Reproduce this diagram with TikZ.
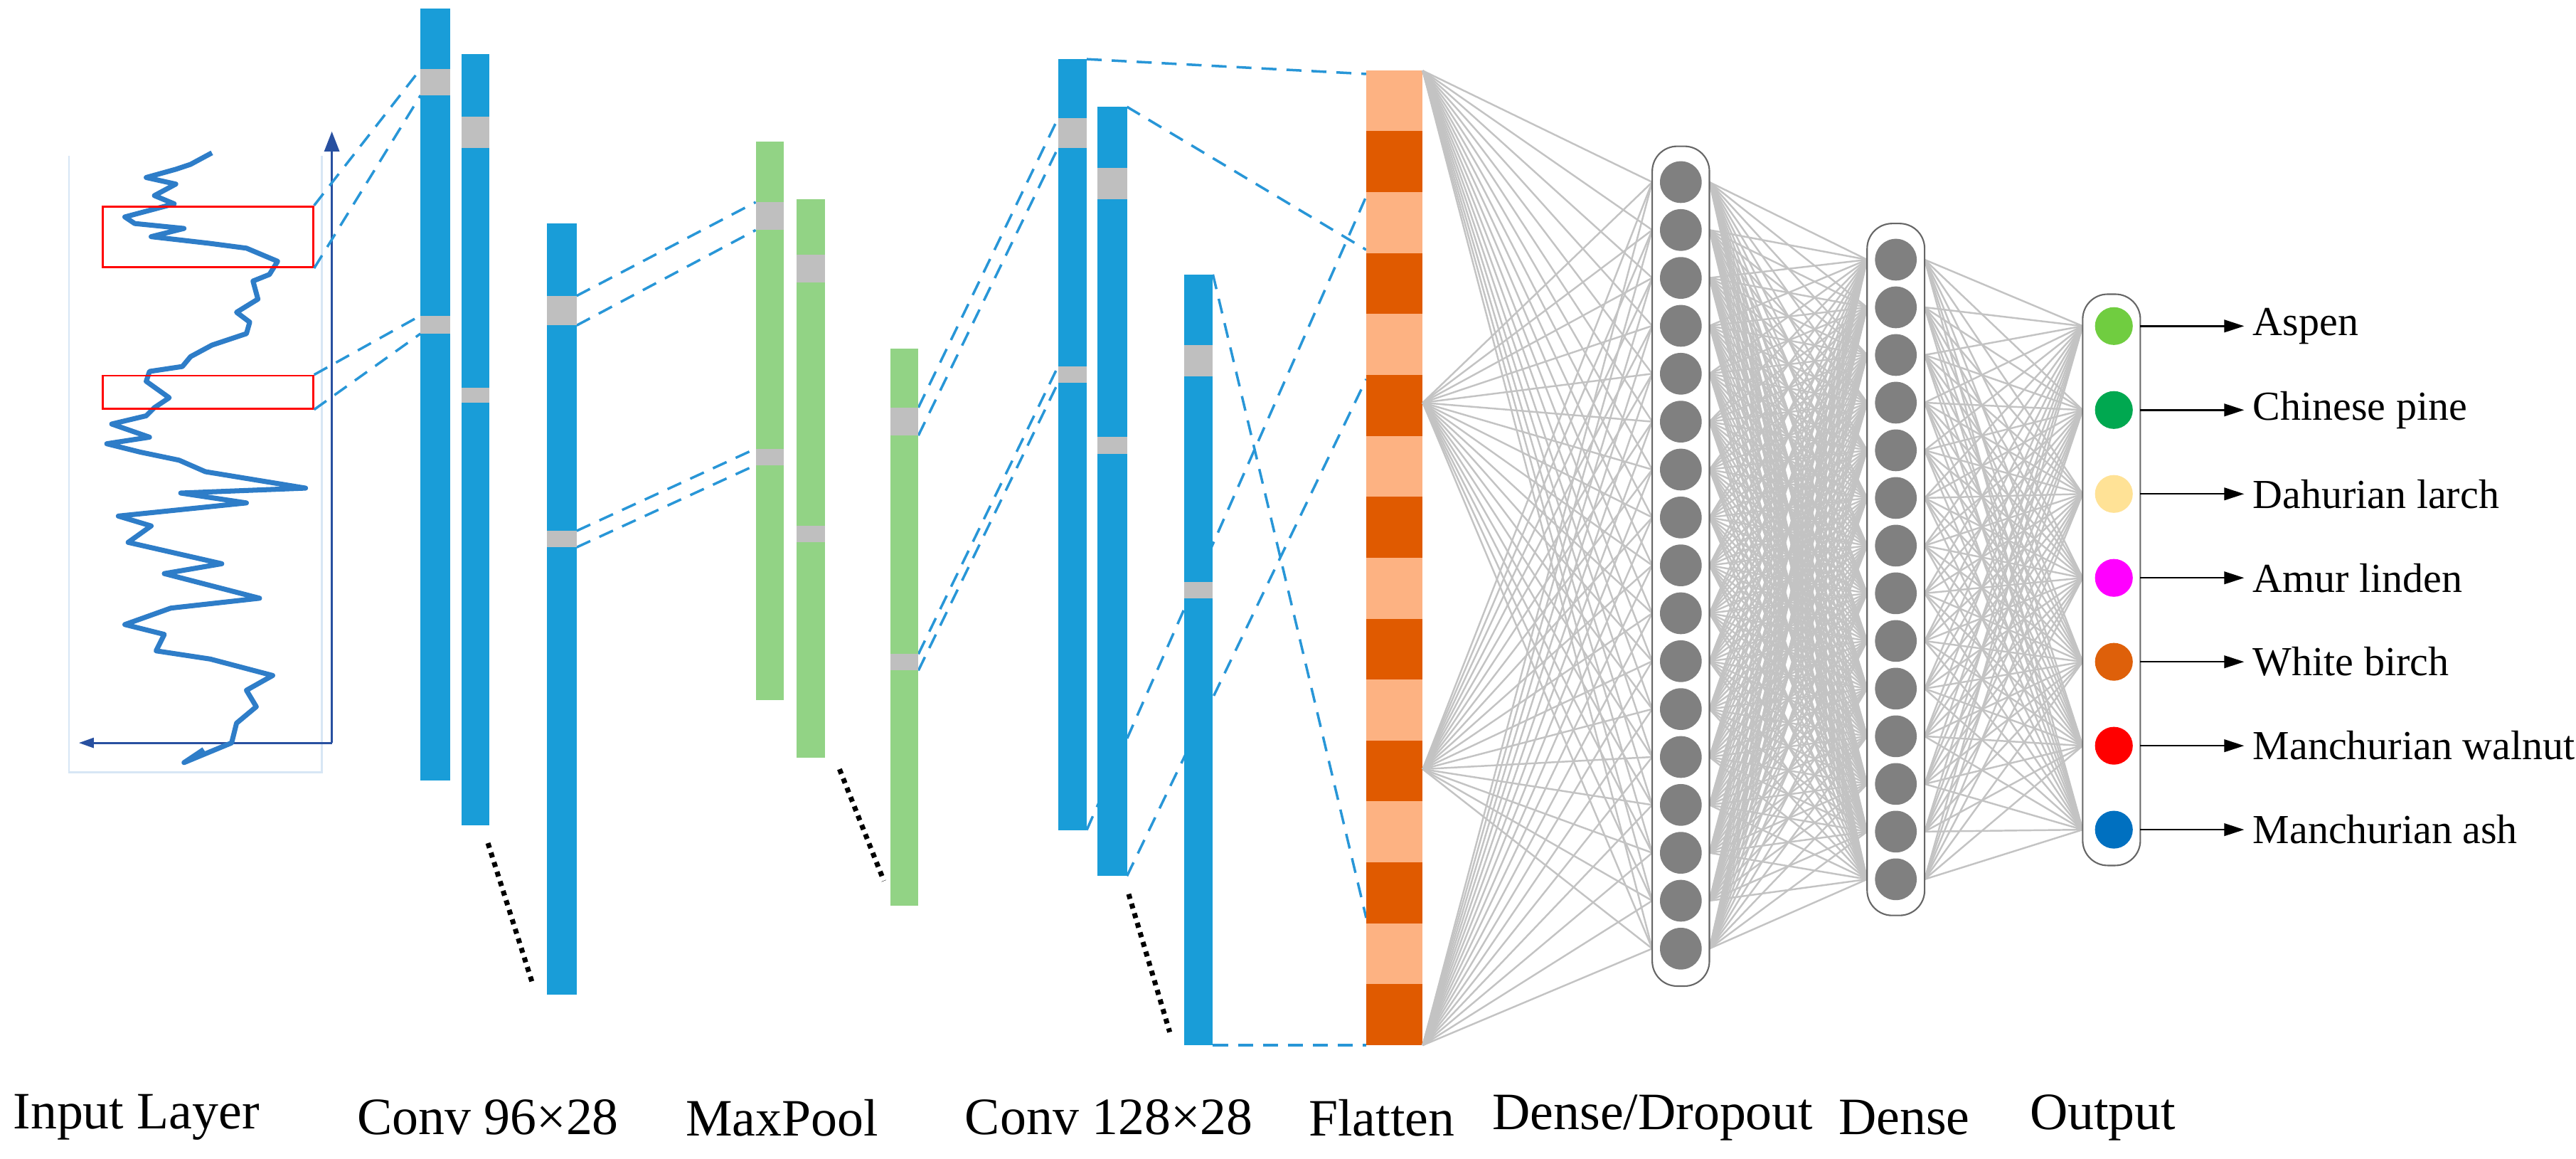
\documentclass[tikz,border=0pt]{standalone}
\usepackage{fontspec}
\setmainfont{Liberation Serif}
\usetikzlibrary{arrows.meta}
\definecolor{barblue}{RGB}{25,157,216}
\definecolor{bargreen}{RGB}{146,211,133}
\definecolor{blkc}{RGB}{191,191,191}
\definecolor{lightor}{RGB}{253,178,130}
\definecolor{darkor}{RGB}{224,90,0}
\definecolor{dashc}{RGB}{40,150,215}
\definecolor{curvec}{RGB}{46,125,200}
\definecolor{axisc}{RGB}{40,80,160}
\definecolor{faintc}{RGB}{215,230,245}
\definecolor{edgec}{RGB}{195,195,195}
\definecolor{neuronc}{RGB}{128,128,128}
\tikzset{
  bar/.style={fill=barblue,draw=none},
  gbar/.style={fill=bargreen,draw=none},
  blk/.style={fill=blkc,draw=none},
  conn/.style={draw=dashc,line width=1pt,dash pattern=on 6pt off 4pt},
  dots/.style={draw=black,line width=2pt,dash pattern=on 2pt off 2pt},
  caps/.style={draw=gray!80!black,fill=white,line width=0.6pt,rounded corners=10pt},
  neu/.style={circle,fill=neuronc,draw=none,minimum size=25.4*0.0231cm,inner sep=0},
  wire/.style={draw=edgec,line width=0.7pt},
  lab/.style={font=\fontsize{21}{25}\selectfont},
  olab/.style={font=\fontsize{16.5}{19}\selectfont,anchor=west},
}
\begin{document}
\begin{tikzpicture}[x=0.0231cm,y=-0.0231cm]
\useasboundingbox (0,0) rectangle (1568,705);
% ---------- input ----------
\draw[faintc,line width=0.8pt] (42,95) -- (42,470) -- (196,470) -- (196,95);
\draw[axisc,line width=0.8pt,-{Triangle[length=8pt,width=6pt]}] (202,452) -- (202,80);
\draw[axisc,line width=0.8pt,-{Triangle[length=6pt,width=4pt]}] (202,452) -- (48,452);
\draw[curvec,line width=2pt,line join=round] plot coordinates {
(129,93)(116,100)(107,103)(89,108)(107,112)(94,119)(106,124)(76,132)(82,136)(112,139)(92,144)(127,148)(150,151)(169,159)(164,167)(154,171)(157,182)(144,190)(152,196)(150,203)(129,210)(116,217)(111,223)(91,226)(89,232)(103,242)(94,248)(89,253)(68,258)(91,266)(65,270)(85,275)(109,280)(125,287)(186,297)(110,300)(150,306)(72,314)(92,320)(78,330)(135,343)(100,349)(158,364)(104,370)(76,380)(100,386)(95,396)(128,401)(166,411)(150,420)(156,430)(144,440)(141,452)(112,464)(124,456)};
\node[draw=red,line width=0.8pt,minimum width=128*0.0231cm,minimum height=37*0.0231cm,inner sep=0,anchor=north west] (r1) at (62,125) {};
\node[draw=red,line width=0.8pt,minimum width=128*0.0231cm,minimum height=20*0.0231cm,inner sep=0,anchor=north west] (r2) at (62,228) {};
% ---------- dashed connectors (behind bars) ----------
\coordinate (a1) at (256,42); \coordinate (a2) at (256,58);
\coordinate (a3) at (256,192); \coordinate (a4) at (256,203);
\draw[conn] (r1.north east) -- (a1); \draw[conn] (r1.south east) -- (a2);
\draw[conn] (r2.north east) -- (a3); \draw[conn] (r2.south east) -- (a4);
\coordinate (b1) at (351,180); \coordinate (b2) at (351,198);
\coordinate (b3) at (351,323); \coordinate (b4) at (351,333);
\coordinate (p1) at (460,123); \coordinate (p2) at (460,140);
\coordinate (p3) at (460,273); \coordinate (p4) at (460,283);
\draw[conn] (b1)--(p1); \draw[conn] (b2)--(p2); \draw[conn] (b3)--(p3); \draw[conn] (b4)--(p4);
\coordinate (q1) at (559,248); \coordinate (q2) at (559,265);
\coordinate (q3) at (559,398); \coordinate (q4) at (559,408);
\coordinate (c1) at (644,72); \coordinate (c2) at (644,90);
\coordinate (c3) at (644,223); \coordinate (c4) at (644,233);
\draw[conn] (q1)--(c1); \draw[conn] (q2)--(c2); \draw[conn] (q3)--(c3); \draw[conn] (q4)--(c4);
% to flatten
\coordinate (e1) at (661.5,36); \coordinate (e2) at (661.5,505);
\coordinate (e3) at (686,65); \coordinate (e4) at (686,533);
\coordinate (e5) at (738.3,167); \coordinate (e6) at (738.3,636);
\coordinate (f1) at (831.6,45); \coordinate (f2) at (831.6,119.5);
\coordinate (f3) at (831.6,152); \coordinate (f4) at (831.6,230.7);
\coordinate (f5) at (831.6,558.5); \coordinate (f6) at (831.6,636);
\draw[conn] (e1)--(f1); \draw[conn] (e2)--(f2); \draw[conn] (e3)--(f3);
\draw[conn] (e4)--(f4); \draw[conn] (e5)--(f5); \draw[conn] (e6)--(f6);
% ---------- conv 96 ----------
\fill[bar] (256,5) rectangle (274,475);
\fill[blk] (256,42) rectangle (274,58); \fill[blk] (256,192) rectangle (274,203);
\fill[bar] (281,33) rectangle (298,502);
\fill[blk] (281,71) rectangle (298,90); \fill[blk] (281,236) rectangle (298,245);
\fill[bar] (333,136) rectangle (351,605);
\fill[blk] (333,180) rectangle (351,198); \fill[blk] (333,323) rectangle (351,333);
\coordinate (d1s) at (297,513); \coordinate (d1e) at (324,598);
\draw[dots] (d1s) -- (d1e);
% ---------- maxpool ----------
\fill[gbar] (460,86) rectangle (477,426);
\fill[blk] (460,123) rectangle (477,140); \fill[blk] (460,273) rectangle (477,283);
\fill[gbar] (485,121) rectangle (502,461);
\fill[blk] (485,155) rectangle (502,172); \fill[blk] (485,320) rectangle (502,330);
\fill[gbar] (542,212) rectangle (559,551);
\fill[blk] (542,248) rectangle (559,265); \fill[blk] (542,398) rectangle (559,408);
\coordinate (d2s) at (511,468); \coordinate (d2e) at (538,536);
\draw[dots] (d2s) -- (d2e);
% ---------- conv 128 ----------
\fill[bar] (644,36) rectangle (661.5,505);
\fill[blk] (644,72) rectangle (661.5,90); \fill[blk] (644,223) rectangle (661.5,233);
\fill[bar] (668,65) rectangle (686,533);
\fill[blk] (668,102) rectangle (686,121); \fill[blk] (668,266) rectangle (686,276);
\fill[bar] (721,167) rectangle (738.3,636);
\fill[blk] (721,210) rectangle (738.3,229); \fill[blk] (721,354) rectangle (738.3,364);
\coordinate (d3s) at (687,544); \coordinate (d3e) at (712,628);
\draw[dots] (d3s) -- (d3e);
% ---------- flatten ----------
\foreach \i in {0,...,15}{
  \pgfmathsetmacro{\ya}{42.7+\i*37.08}
  \pgfmathsetmacro{\yb}{42.7+(\i+1)*37.08}
  \ifodd\i \fill[darkor] (831.6,\ya) rectangle (866,\yb);
  \else \fill[lightor] (831.6,\ya) rectangle (866,\yb); \fi
}
\coordinate (g1) at (866,43); \coordinate (g2) at (866,245);
\coordinate (g3) at (866,468); \coordinate (g4) at (866,636);
% ---------- wires ----------
\foreach \g in {g1,g2,g3,g4}
  \foreach \k in {1,...,17}
    \draw[wire] (\g) -- (1005.7,{110.8+(\k-1)*29.15});
\foreach \k in {1,...,17}
  \foreach \j in {1,...,14}
    \draw[wire] (1040.5,{110.8+(\k-1)*29.15}) -- (1136.5,{158+(\j-1)*29});
\foreach \j in {1,...,14}
  \foreach \o in {1,...,7}
    \draw[wire] (1171.5,{158+(\j-1)*29}) -- (1267.7,{198.4+(\o-1)*51.07});
% ---------- capsules ----------
\draw[caps] (1005.7,89) rectangle (1040.5,600);
\draw[caps] (1136.5,136) rectangle (1171.5,557);
\draw[caps] (1267.7,179) rectangle (1302.8,526.6);
% neurons
\foreach \k in {1,...,17} \node[neu] (n\k) at (1023.1,{110.8+(\k-1)*29.15}) {};
\foreach \k in {1,...,14} \node[neu] (m\k) at (1154,{158+(\k-1)*29}) {};
\definecolor{oc1}{RGB}{112,205,64}
\definecolor{oc2}{RGB}{0,168,80}
\definecolor{oc3}{RGB}{255,226,150}
\definecolor{oc4}{RGB}{255,0,255}
\definecolor{oc5}{RGB}{222,96,10}
\definecolor{oc6}{RGB}{255,0,0}
\definecolor{oc7}{RGB}{0,112,192}
\foreach \k in {1,...,7}
  \node[circle,fill=oc\k,inner sep=0,minimum width=23*0.0231cm] (o\k) at (1286.7,{198.4+(\k-1)*51.07}) {};
% ---------- outputs ----------
\foreach \k/\t in {1/Aspen,2/Chinese pine,3/Dahurian larch,4/Amur linden,5/White birch,6/Manchurian walnut,7/Manchurian ash}{
  \node[olab] (t\k) at (1366,{198.4+(\k-1)*51.07}) {\t};
  \draw[line width=0.7pt,-{Triangle[length=8pt,width=5pt]}] (1302.8,{198.4+(\k-1)*51.07}) -- (t\k.west);
}
% ---------- labels ----------
\node[lab] (l1) at (83,680) {Input Layer};
\node[lab] (l2) at (297,680) {Conv 96×28};
\node[lab] (l3) at (476,680) {MaxPool};
\node[lab] (l4) at (675,680) {Conv 128×28};
\node[lab] (l5) at (841,680) {Flatten};
\node[lab] (l6) at (1006,680) {Dense/Dropout};
\node[lab] (l7) at (1159,680) {Dense};
\node[lab] (l8) at (1280,680) {Output};
\end{tikzpicture}
\end{document}
